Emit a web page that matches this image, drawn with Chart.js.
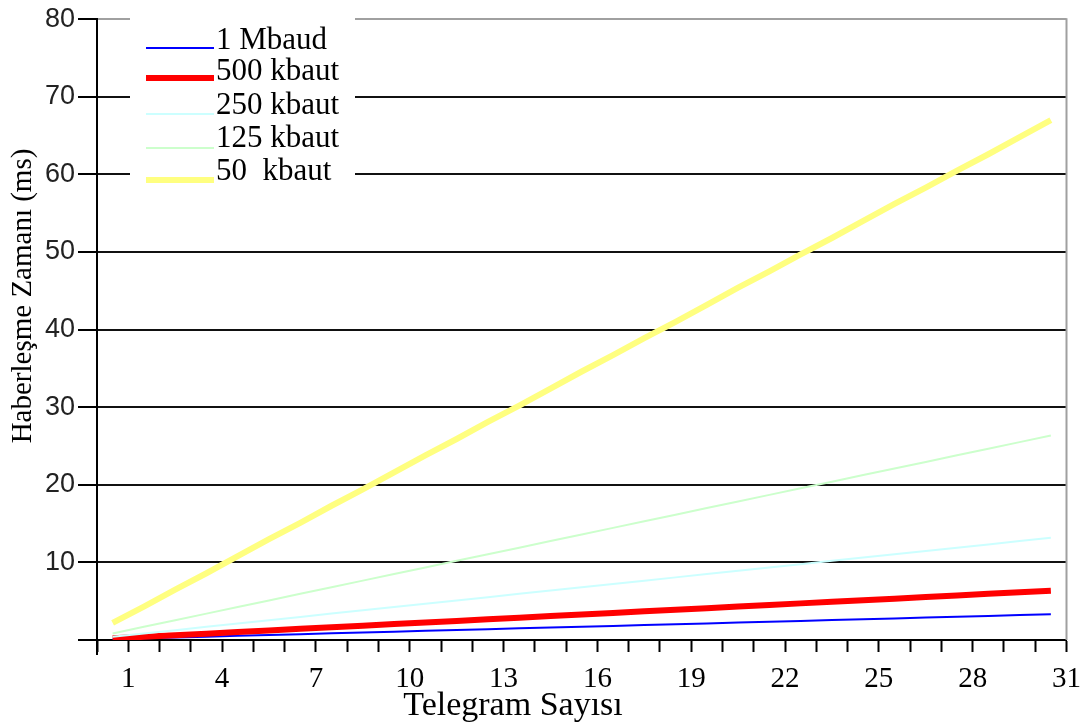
<!DOCTYPE html>
<html><head><meta charset="utf-8">
<script src="https://cdn.jsdelivr.net/npm/chart.js@4/dist/chart.umd.min.js"></script>
<style>html,body{margin:0;padding:0;background:#fff;overflow:hidden}#wrap{width:1091px;height:728px}</style>
</head><body><div id="wrap"><canvas id="c" width="1091" height="728"></canvas></div>
<script>
// ---- data ----
const telegramCounts = [1,2,3,4,5,6,7,8,9,10,11,12,13,14,15,16,17,18,19,20,21,22,23,24,25,26,27,28,29,30,31];
const xTickLabels = [1,4,7,10,13,16,19,22,25,28,31];
const yTickLabels = [10,20,30,40,50,60,70,80];
const seriesNames = ['1 Mbaud','500 kbaut','250 kbaut','125 kbaut','50  kbaut'];
const mbaud1   = [0.11,0.21,0.32,0.43,0.54,0.64,0.75,0.86,0.96,1.07,1.18,1.28,1.39,1.50,1.61,1.71,1.82,1.93,2.03,2.14,2.25,2.35,2.46,2.57,2.68,2.78,2.89,3.00,3.10,3.21,3.32];
const kbaut500 = [0.21,0.41,0.62,0.82,1.03,1.23,1.44,1.64,1.85,2.05,2.26,2.46,2.67,2.87,3.08,3.28,3.49,3.69,3.90,4.10,4.31,4.51,4.72,4.92,5.13,5.33,5.54,5.74,5.95,6.15,6.36];
const kbaut250 = [0.42,0.85,1.27,1.70,2.12,2.55,2.97,3.40,3.82,4.25,4.67,5.10,5.52,5.95,6.37,6.80,7.22,7.65,8.07,8.50,8.92,9.35,9.77,10.20,10.62,11.05,11.47,11.90,12.32,12.75,13.17];
const kbaut125 = [0.85,1.70,2.55,3.40,4.25,5.10,5.95,6.80,7.65,8.50,9.35,10.20,11.05,11.90,12.75,13.60,14.45,15.30,16.15,17.00,17.85,18.70,19.55,20.40,21.25,22.10,22.95,23.80,24.65,25.50,26.35];
const kbaut50  = [2.2,4.3,6.5,8.6,10.8,13.0,15.1,17.3,19.4,21.6,23.8,25.9,28.1,30.2,32.4,34.6,36.7,38.9,41.0,43.2,45.4,47.5,49.7,51.8,54.0,56.2,58.3,60.5,62.6,64.8,67.0];
const seriesValues = [mbaud1, kbaut500, kbaut250, kbaut125, kbaut50];

// ---- styling ----
const seriesColors = ['#0000ff','#ff0000','#ccffff','#ccffcc','#ffff80'];
const seriesWidths = [2,6,2,2,6];
const serif = '"Liberation Serif", "DejaVu Serif", serif';
const sans = '"Liberation Sans", Arial, sans-serif';
const xShift = 0.5; // points sit in the middle of each telegram interval

const datasets = seriesValues.map((vals, i) => ({
  label: seriesNames[i],
  data: vals.map((v, j) => ({x: telegramCounts[j] - xShift, y: v})),
  borderColor: seriesColors[i],
  backgroundColor: seriesColors[i],
  borderWidth: seriesWidths[i],
  pointRadius: 0,
  tension: 0,
  fill: false
}));
datasets.reverse();

const decor = {
  id: 'decor',
  afterDatasetsDraw(chart) {
    const ctx = chart.ctx, ca = chart.chartArea;
    ctx.save();
    // right border
    ctx.strokeStyle = '#a0a0a0'; ctx.lineWidth = 2;
    ctx.beginPath(); ctx.moveTo(ca.right, ca.top - 1); ctx.lineTo(ca.right, ca.bottom); ctx.stroke();
    // y axis continues a little below zero
    ctx.strokeStyle = '#000';
    ctx.beginPath(); ctx.moveTo(ca.left, ca.bottom); ctx.lineTo(ca.left, ca.bottom + 15); ctx.stroke();
    // legend box
    ctx.fillStyle = '#fff';
    ctx.fillRect(130, ca.top - 3, 225, 170);
    const lineY = [48, 78, 114, 148, 180];
    const textY = [41, 72, 106, 139, 172];
    ctx.font = '31px ' + serif;
    ctx.textBaseline = 'middle'; ctx.textAlign = 'left';
    seriesNames.forEach((name, i) => {
      ctx.strokeStyle = seriesColors[i]; ctx.lineWidth = seriesWidths[i];
      ctx.lineCap = 'butt';
      ctx.beginPath(); ctx.moveTo(146, lineY[i]); ctx.lineTo(214, lineY[i]); ctx.stroke();
      ctx.fillStyle = '#000';
      ctx.fillText(name, 216, textY[i]);
    });
    // axis titles
    ctx.fillStyle = '#000';
    ctx.textAlign = 'center'; ctx.textBaseline = 'alphabetic';
    ctx.font = '34px ' + serif;
    ctx.fillText('Telegram Sayısı', 513, 715);
    ctx.font = '29px ' + serif;
    ctx.translate(31, 296); ctx.rotate(-Math.PI / 2);
    ctx.fillText('Haberleşme Zamanı (ms)', 0, 0);
    ctx.restore();
  }
};

new Chart(document.getElementById('c'), {
  type: 'line',
  data: {datasets},
  options: {
    responsive: false, animation: false, devicePixelRatio: 1,
    layout: {padding: {left: 0, top: 17, right: 15, bottom: 0}},
    plugins: {legend: {display: false}, tooltip: {enabled: false}},
    scales: {
      x: {
        type: 'linear', min: 0, max: 31,
        afterFit: s => { s.height = 88; },
        ticks: {
          stepSize: 1, autoSkip: false, maxRotation: 0, padding: 10,
          color: '#000', font: {family: serif, size: 29},
          callback: v => xTickLabels.includes(v) ? String(v) : ''
        },
        grid: {drawOnChartArea: false, tickLength: 12, tickColor: '#000', tickWidth: 2},
        border: {color: '#000', width: 2}
      },
      y: {
        min: 0, max: 80,
        afterFit: s => { s.width = 97; },
        ticks: {
          stepSize: 10, padding: 3,
          color: '#222', font: {family: sans, size: 27},
          callback: v => yTickLabels.includes(v) ? String(v) : ''
        },
        grid: {
          color: c => c.tick.value === 0 ? 'rgba(0,0,0,0)' : (c.tick.value === 80 ? '#a0a0a0' : '#111'),
          lineWidth: 2, tickLength: 19, tickColor: '#000', tickWidth: 2
        },
        border: {color: '#000', width: 2}
      }
    }
  },
  plugins: [decor]
});
</script>
</body></html>
